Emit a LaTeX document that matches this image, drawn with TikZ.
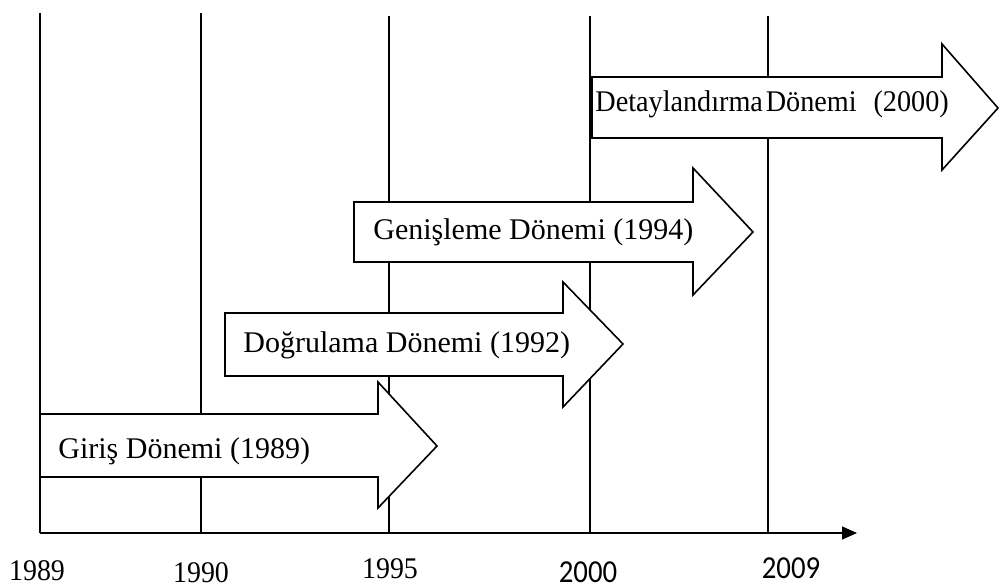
\documentclass[tikz,border=0pt]{standalone}
\usepackage{fontspec}
\setmainfont{Liberation Serif}
\newfontfamily\yearsans{Carlito}
\usetikzlibrary{arrows.meta}
\tikzset{
  vline/.style={line width=0.75pt},
  phase/.style={draw=black, fill=white, line width=0.8pt, line join=miter},
  phaselabel/.style={anchor=base west, inner sep=0pt, font=\fontsize{15}{18}\selectfont},
  yearserif/.style={anchor=base, inner sep=0pt, font=\fontsize{15}{18}\selectfont},
  yearsans/.style={anchor=base, inner sep=0pt, font=\yearsans\fontsize{16}{19}\selectfont},
}
\begin{document}
\begin{tikzpicture}[x=0.5pt, y=-0.5pt]
\useasboundingbox (0,0) rectangle (1000,588);

% year gridlines
\coordinate (t1989) at (40,13);   \coordinate (b1989) at (40,533);
\coordinate (t1990) at (201,13);  \coordinate (b1990) at (201,533);
\coordinate (t1995) at (389,16);  \coordinate (b1995) at (389,533);
\coordinate (t2000) at (590,16);  \coordinate (b2000) at (590,533);
\coordinate (t2009) at (768,16);  \coordinate (b2009) at (768,533);
\foreach \y in {1989,1990,1995,2000,2009}
  \draw[vline] (t\y) -- (b\y);

% time axis
\coordinate (axisend) at (857,533);
\draw[line width=0.8pt, -{Triangle[length=7.5pt,width=6.5pt]}] (b1989) -- (axisend);

% year labels
\node[yearserif] (l1989) at (37,580) {\scalebox{0.93}[1]{1989}};
\node[yearserif] (l1990) at (201,582) {\scalebox{0.93}[1]{1990}};
\node[yearserif] (l1995) at (390,578) {\scalebox{0.93}[1]{1995}};
\node[yearsans]  (l2000) at (588,582) {\scalebox{0.9}[1]{2000}};
\node[yearsans]  (l2009) at (791,578) {\scalebox{0.9}[1]{2009}};

% period arrows
\draw[phase] (40,414) -- (378,414) -- (378,382) -- (437,446) -- (378,508) -- (378,477) -- (40,477) -- cycle;
\node[phaselabel] (giris) at (58,458) {Giriş Dönemi (1989)};

\draw[phase] (225,313) -- (563,313) -- (563,282) -- (623,344) -- (563,407) -- (563,376) -- (225,376) -- cycle;
\node[phaselabel] (dogrulama) at (243,352) {Doğrulama Dönemi (1992)};

\draw[phase] (354,202) -- (693,202) -- (693,168) -- (753,232) -- (693,295) -- (693,262) -- (354,262) -- cycle;
\node[phaselabel] (genisleme) at (373,240) {Genişleme Dönemi (1994)};

\draw[phase] (592,77) -- (942,77) -- (942,44) -- (998,108) -- (942,170) -- (942,138) -- (592,138) -- cycle;
\node[phaselabel] (detay) at (595,112) {\scalebox{0.94}[1]{Detaylandırma\hspace{0.1em}Dönemi\hspace{0.6em}(2000)}};
\end{tikzpicture}
\end{document}
